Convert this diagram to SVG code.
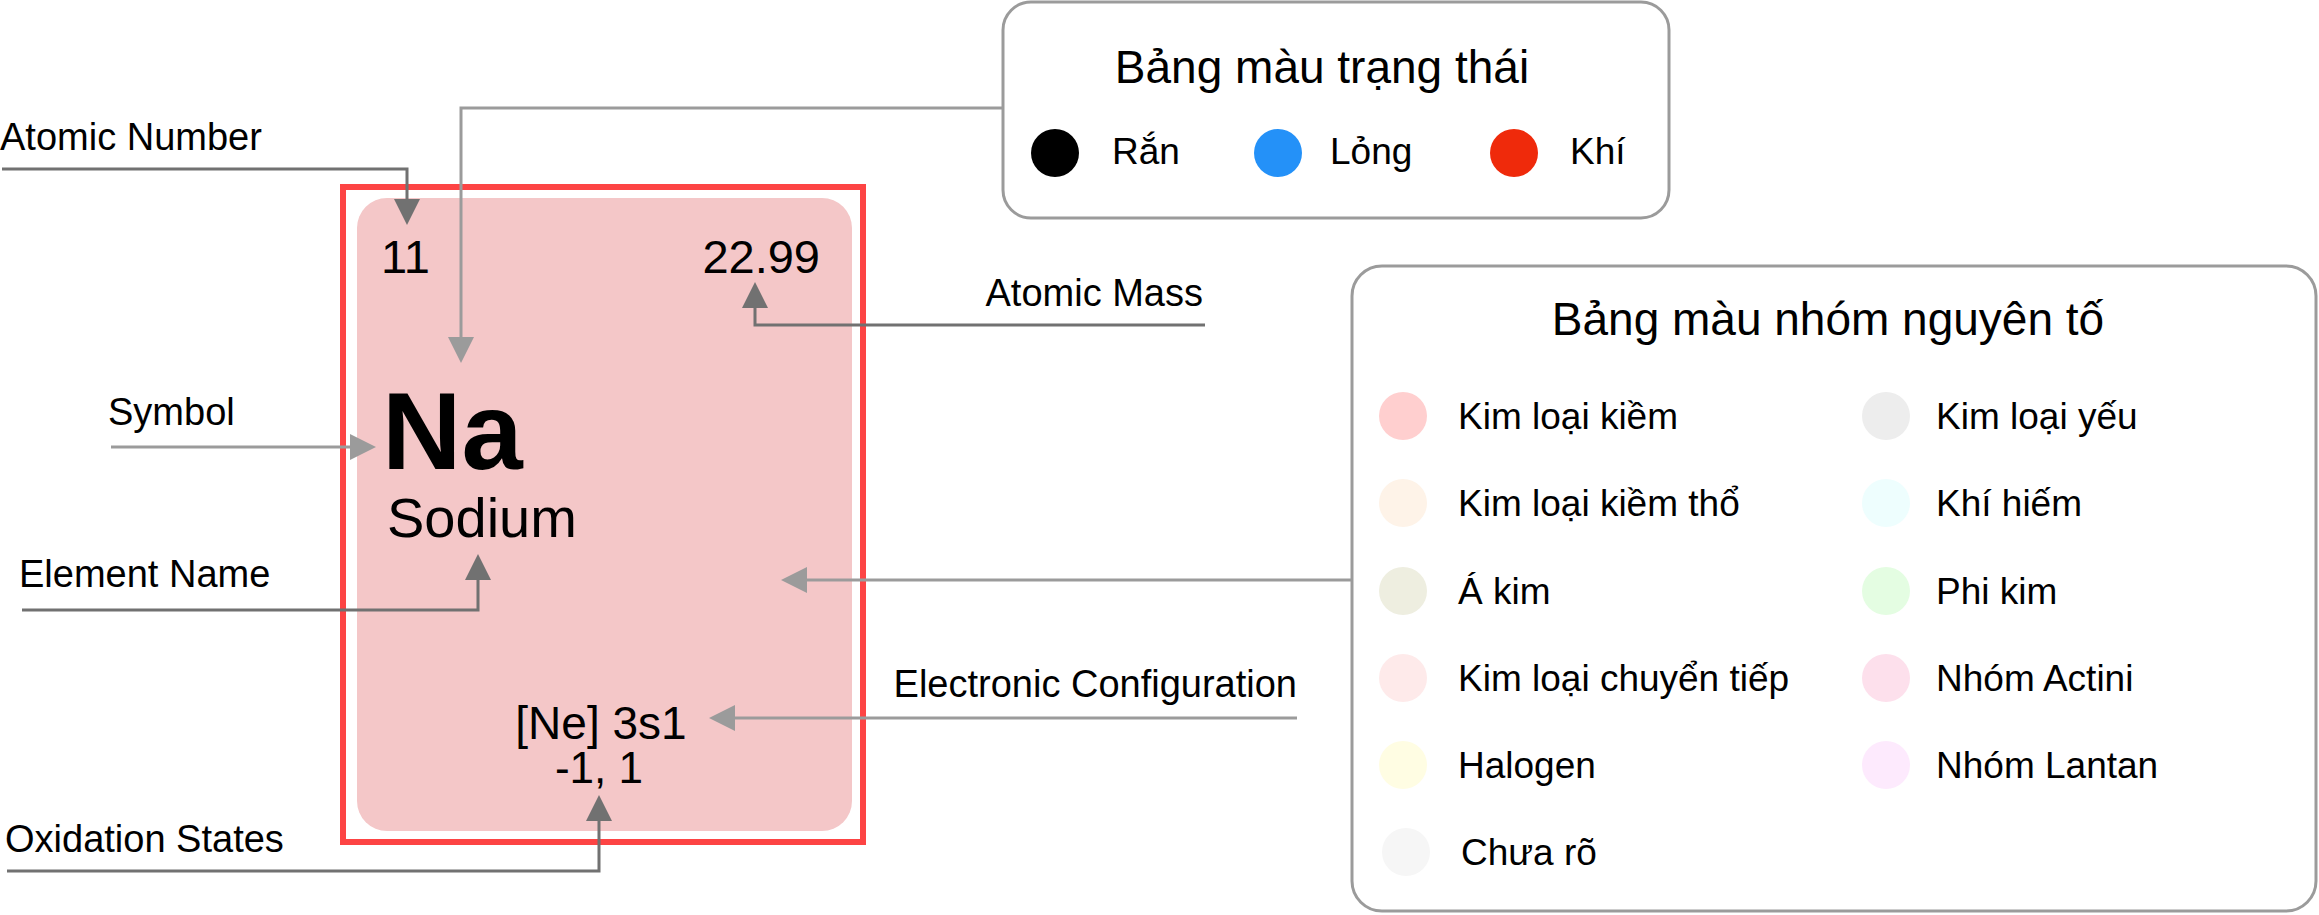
<svg xmlns="http://www.w3.org/2000/svg" width="2319" height="915" viewBox="0 0 2319 915">
<style>
text{font-family:"Liberation Sans",Arial,Helvetica,sans-serif;fill:#000}
.lbl{font-size:38px}
.itm{font-size:37px}
.ttl{font-size:46px}
.num{font-size:47px}
.box{fill:#fff;stroke:#9b9b9b;stroke-width:3}
.dk{fill:none;stroke:#717171;stroke-width:3}
.lt{fill:none;stroke:#9b9b9b;stroke-width:3}
</style>
<defs>
<marker id="adk" markerUnits="userSpaceOnUse" markerWidth="28" markerHeight="28" refX="0" refY="13" orient="auto"><path d="M0,0 L26,13 L0,26 Z" fill="#717171"/></marker>
<marker id="alt" markerUnits="userSpaceOnUse" markerWidth="28" markerHeight="28" refX="0" refY="13" orient="auto"><path d="M0,0 L26,13 L0,26 Z" fill="#9b9b9b"/></marker>
</defs>
<rect width="2319" height="915" fill="#fff"/>

<g id="element-card">
<rect x="343" y="187" width="520" height="655" fill="none" stroke="#fd4444" stroke-width="6"/>
<rect x="357" y="198" width="495" height="633" rx="30" fill="#f4c7c8"/>
<text class="num" x="381" y="273">11</text>
<text class="num" x="820" y="273" text-anchor="end">22.99</text>
<text x="382" y="469" font-size="110" font-weight="bold">Na</text>
<text x="387" y="537" font-size="56">Sodium</text>
<text x="601" y="739" font-size="46" text-anchor="middle">[Ne] 3s1</text>
<text x="599" y="783" font-size="44" text-anchor="middle">-1, 1</text>
</g>

<g id="labels">
<text class="lbl" x="0" y="150">Atomic Number</text>
<text class="lbl" x="108" y="425">Symbol</text>
<text class="lbl" x="19" y="587">Element Name</text>
<text class="lbl" x="5" y="852">Oxidation States</text>
<text class="lbl" x="1203" y="306" text-anchor="end">Atomic Mass</text>
<text class="lbl" x="1297" y="697" text-anchor="end">Electronic Configuration</text>
</g>

<g id="state-legend">
<rect class="box" x="1003" y="2" width="666" height="216" rx="28"/>
<text class="ttl" x="1322" y="83" text-anchor="middle">Bảng màu trạng thái</text>
<circle cx="1055" cy="153" r="24" fill="#000"/>
<text class="itm" x="1112" y="164">Rắn</text>
<circle cx="1278" cy="153" r="24" fill="#2491f8"/>
<text class="itm" x="1330" y="164">Lỏng</text>
<circle cx="1514" cy="153" r="24" fill="#ef2a0b"/>
<text class="itm" x="1570" y="164">Khí</text>
</g>

<g id="group-legend">
<rect class="box" x="1352" y="266" width="964" height="645" rx="30"/>
<text class="ttl" x="1828" y="335" text-anchor="middle">Bảng màu nhóm nguyên tố</text>
<circle cx="1403" cy="416" r="24" fill="#ffcfcf"/>
<text class="itm" x="1458" y="429">Kim loại kiềm</text>
<circle cx="1403" cy="503" r="24" fill="#fef3e8"/>
<text class="itm" x="1458" y="516">Kim loại kiềm thổ</text>
<circle cx="1403" cy="591" r="24" fill="#eeeee0"/>
<text class="itm" x="1458" y="604">Á kim</text>
<circle cx="1403" cy="678" r="24" fill="#feeaea"/>
<text class="itm" x="1458" y="691">Kim loại chuyển tiếp</text>
<circle cx="1403" cy="765" r="24" fill="#fffde3"/>
<text class="itm" x="1458" y="778">Halogen</text>
<circle cx="1406" cy="852" r="24" fill="#f6f6f6"/>
<text class="itm" x="1461" y="865">Chưa rõ</text>
<circle cx="1886" cy="416" r="24" fill="#ededed"/>
<text class="itm" x="1936" y="429">Kim loại yếu</text>
<circle cx="1886" cy="503" r="24" fill="#eefefe"/>
<text class="itm" x="1936" y="516">Khí hiếm</text>
<circle cx="1886" cy="591" r="24" fill="#e4fde2"/>
<text class="itm" x="1936" y="604">Phi kim</text>
<circle cx="1886" cy="678" r="24" fill="#fde0ec"/>
<text class="itm" x="1936" y="691">Nhóm Actini</text>
<circle cx="1886" cy="765" r="24" fill="#fdeafd"/>
<text class="itm" x="1936" y="778">Nhóm Lantan</text>
</g>

<g id="connectors">
<path class="dk" d="M2,169 H407 V199" marker-end="url(#adk)"/>
<path class="lt" d="M1003,108 H461 V337" marker-end="url(#alt)"/>
<path class="lt" d="M111,447 H350" marker-end="url(#alt)"/>
<path class="dk" d="M1205,325 H755 V308" marker-end="url(#adk)"/>
<path class="dk" d="M22,610 H478 V580" marker-end="url(#adk)"/>
<path class="lt" d="M1352,580 H807" marker-end="url(#alt)"/>
<path class="lt" d="M1297,718 H735" marker-end="url(#alt)"/>
<path class="dk" d="M7,871 H599 V821" marker-end="url(#adk)"/>
</g>
</svg>
